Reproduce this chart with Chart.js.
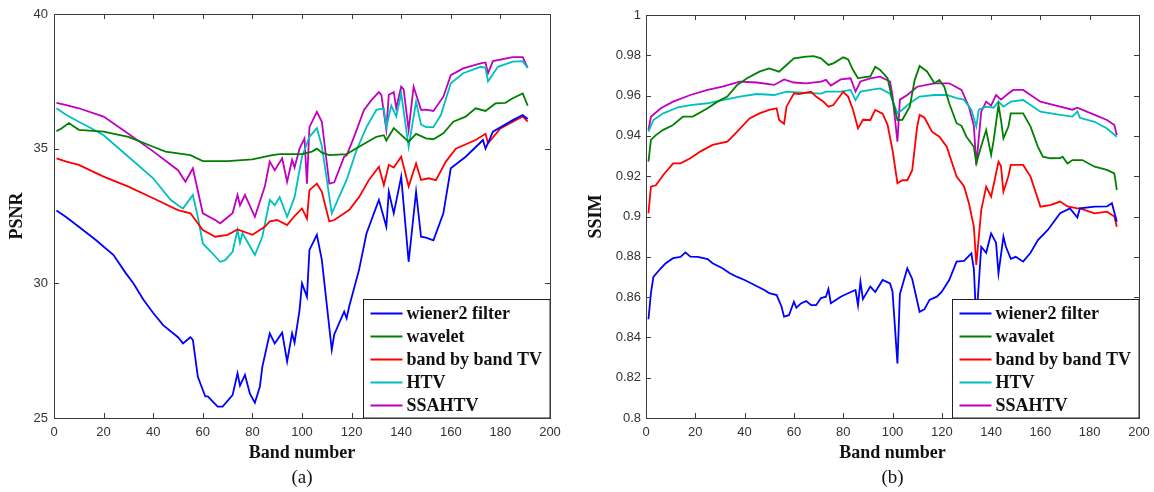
<!DOCTYPE html>
<html>
<head>
<meta charset="utf-8">
<script src="https://cdn.jsdelivr.net/npm/chart.js@4.4.1/dist/chart.umd.min.js"></script>
<style>
  html, body { margin: 0; padding: 0; background: #ffffff; }
  #wrap { position: relative; width: 1154px; height: 492px; }
  canvas { position: absolute; top: 0; }
  #psnr { left: 0; }
  #ssim { left: 577px; }
</style>
</head>
<body>
<div id="wrap">
  <canvas id="psnr" width="577" height="492"></canvas>
  <canvas id="ssim" width="577" height="492"></canvas>
</div>
<script>
// ---- Method names (legend order) ----
const methods = ['wiener2 filter', 'wavalet', 'band by band TV', 'HTV', 'SSAHTV'];
const methodsA = ['wiener2 filter', 'wavelet', 'band by band TV', 'HTV', 'SSAHTV'];
const colors = ['#0000ff', '#008000', '#ff0000', '#00bfbf', '#bf00bf'];

// ---- Axis ticks ----
const bandTicks = [0, 20, 40, 60, 80, 100, 120, 140, 160, 180, 200];
const psnrTicks = [25, 30, 35, 40];
const ssimTicks = [0.8, 0.82, 0.84, 0.86, 0.88, 0.9, 0.92, 0.94, 0.96, 0.98, 1];

// ---- PSNR per band ----
const psnrWienerBand = [1,5,10,17,24,29,32,36,40,44,50,52,55,56,58,61,62,66,68,72,74,75,77,79,81,83,84,87,89,92,94,96,97,99,100,102,103,106,108,112,113,117,118,119,123,126,131,134,135,137,140,143,146,148,150,153,157,160,166,173,174,177,185,189,191];
const psnrWiener     = [32.7,32.45,32.1,31.6,31.05,30.37,30.0,29.4,28.9,28.45,28.0,27.77,28.0,27.9,26.53,25.8,25.8,25.42,25.42,25.85,26.66,26.2,26.6,25.9,25.57,26.16,26.9,28.14,27.77,28.17,27.1,28.14,27.8,29.0,30.0,29.5,31.24,31.8,30.87,27.53,28.1,28.95,28.7,29.13,30.5,31.85,33.1,32.1,33.4,32.6,33.96,30.8,33.4,31.73,31.7,31.6,32.6,34.27,34.7,35.32,35.0,35.63,36.06,36.25,36.1];

const psnrWaveletBand = [1,3,6,10,20,30,40,45,55,60,70,80,88,91,100,104,106,108,111,118,123,130,133,134,137,143,146,150,153,157,161,166,170,174,178,182,185,189,191];
const psnrWavelet     = [35.65,35.75,35.95,35.7,35.63,35.44,35.07,34.89,34.76,34.54,34.54,34.6,34.76,34.8,34.8,34.89,35.0,34.85,34.76,34.8,35.07,35.44,35.5,35.3,35.76,35.26,35.55,35.38,35.35,35.57,36.0,36.19,36.5,36.4,36.68,36.7,36.87,37.05,36.6];

const psnrBbtvBand = [1,5,10,20,30,40,50,55,60,65,70,74,80,85,87,90,94,97,100,102,103,106,108,111,113,119,123,127,131,133,135,137,140,143,146,148,151,154,158,162,170,174,175,180,185,189,191];
const psnrBbtv     = [34.64,34.52,34.4,33.96,33.59,33.16,32.72,32.6,31.98,31.73,31.8,32.0,31.8,32.1,32.3,32.35,32.16,32.5,32.78,32.4,33.46,33.7,33.4,32.3,32.35,32.72,33.2,33.84,34.33,33.65,34.4,34.3,34.7,33.6,34.45,33.84,33.9,33.83,34.52,35.0,35.32,35.55,35.2,35.75,36.0,36.2,36.0];

const psnrHtvBand = [1,5,10,15,20,30,40,47,50,52,56,58,60,63,67,69,72,74,75,76,81,84,87,89,91,94,97,100,103,106,108,112,113,118,122,126,130,133,134,136,138,140,143,146,148,150,153,156,160,165,172,174,175,179,185,189,191];
const psnrHtv     = [36.5,36.25,36.0,35.76,35.5,34.7,33.9,33.1,32.9,32.78,33.28,32.47,31.48,31.2,30.8,30.86,31.17,31.98,31.5,31.86,31.05,31.73,33.1,32.9,33.2,32.47,33.2,34.7,35.44,35.76,35.1,32.6,32.8,33.84,34.95,35.8,36.44,36.5,35.8,36.6,36.2,37.05,35.07,36.74,35.9,35.8,35.8,36.25,37.43,37.8,38.04,38.0,37.5,38.04,38.23,38.25,38.0];

const psnrSsahtvBand = [1,5,10,20,30,40,50,53,56,60,65,67,72,74,75,77,81,85,87,89,92,94,96,97,99,101,102,103,106,108,111,113,117,118,121,125,128,131,132,134,135,137,138,140,141,143,145,148,150,153,157,160,165,172,174,175,177,185,189,191];
const psnrSsahtv     = [36.7,36.62,36.5,36.19,35.55,34.9,34.2,33.77,34.27,32.6,32.35,32.23,32.6,33.28,32.9,33.28,32.47,33.59,34.52,34.2,34.64,33.77,34.58,34.3,35.0,35.38,33.7,35.8,36.37,36.0,33.7,33.75,34.7,34.75,35.44,36.44,36.8,37.1,37.0,35.7,37.0,37.1,36.5,37.3,37.2,35.7,37.3,36.44,36.45,36.4,36.93,37.73,37.98,38.17,38.2,37.8,38.25,38.4,38.4,38.0];

// ---- SSIM per band ----
const ssimWienerBand = [1,2,3,6,8,11,14,16,18,21,25,27,31,34,37,40,44,48,50,53,55,56,58,60,61,63,65,67,69,71,73,74,75,79,82,85,86,87,88,91,93,96,99,100,102,103,105,106,108,111,113,115,118,120,123,126,129,132,133,134,136,138,140,142,143,145,146,148,150,153,156,159,163,168,172,175,176,182,187,189,191];
const ssimWiener     = [0.849,0.862,0.870,0.8743,0.8768,0.8793,0.880,0.8822,0.8801,0.880,0.8789,0.8768,0.8743,0.8718,0.870,0.8685,0.866,0.8635,0.862,0.861,0.8552,0.8503,0.851,0.8577,0.8547,0.857,0.858,0.856,0.856,0.8595,0.8602,0.864,0.857,0.8602,0.8619,0.8635,0.856,0.8676,0.859,0.8652,0.8625,0.8685,0.8668,0.8628,0.8271,0.8615,0.870,0.8743,0.869,0.8527,0.854,0.8586,0.8602,0.8627,0.8685,0.8776,0.878,0.8817,0.874,0.848,0.885,0.882,0.8916,0.887,0.8718,0.890,0.885,0.879,0.880,0.8776,0.882,0.8883,0.8933,0.9016,0.904,0.8995,0.904,0.9049,0.905,0.9066,0.8974];

const ssimWaveletBand = [1,2,4,7,11,15,19,25,29,33,37,41,46,50,54,57,60,65,68,71,74,76,80,82,84,86,88,91,93,95,98,100,102,104,107,109,111,114,117,119,121,123,126,128,130,133,134,136,138,140,141,143,144,145,147,148,153,156,159,161,164,168,169,171,173,177,182,187,190,191];
const ssimWavelet     = [0.9272,0.938,0.9404,0.943,0.9454,0.9496,0.9496,0.9537,0.957,0.9595,0.9653,0.9686,0.9719,0.9735,0.9719,0.9752,0.9785,0.9793,0.9796,0.9785,0.9752,0.976,0.979,0.978,0.9727,0.9686,0.969,0.9695,0.9743,0.9727,0.9686,0.9578,0.9479,0.948,0.9545,0.9677,0.9747,0.972,0.9661,0.9677,0.9644,0.9562,0.9463,0.945,0.9396,0.9346,0.9264,0.935,0.9429,0.9305,0.9375,0.9553,0.9479,0.9388,0.9445,0.9512,0.9512,0.9446,0.9346,0.9297,0.9289,0.929,0.9297,0.9263,0.928,0.928,0.9247,0.9231,0.9214,0.9132];

const ssimBbtvBand = [1,2,4,7,11,14,18,22,27,33,37,42,46,50,53,54,56,57,60,62,67,69,72,74,76,80,82,84,86,88,91,93,96,98,100,102,104,106,108,110,111,113,116,119,122,126,129,131,133,134,136,138,140,143,144,145,147,148,153,156,160,164,168,171,175,176,182,187,190,191];
const ssimBbtv     = [0.9016,0.9148,0.9155,0.9206,0.9264,0.9264,0.9289,0.9322,0.9355,0.9371,0.9421,0.9487,0.9512,0.9529,0.9537,0.9479,0.946,0.9545,0.9611,0.9608,0.9619,0.9595,0.957,0.9545,0.9553,0.9619,0.9595,0.9529,0.9437,0.948,0.9479,0.9529,0.951,0.9455,0.933,0.9165,0.918,0.918,0.923,0.9446,0.9504,0.949,0.9421,0.9396,0.9346,0.9198,0.915,0.9066,0.895,0.876,0.9032,0.9148,0.9098,0.9272,0.925,0.9123,0.920,0.9256,0.9256,0.9198,0.9049,0.9057,0.9074,0.905,0.904,0.904,0.9016,0.9024,0.900,0.8949];

const ssimHtvBand = [1,3,7,13,18,25,31,38,45,52,57,65,71,73,79,83,85,87,91,95,99,102,104,107,111,117,122,126,129,132,134,135,138,141,143,145,148,153,160,168,173,175,176,182,187,191];
const ssimHtv     = [0.9421,0.9479,0.9512,0.9542,0.9553,0.9562,0.9578,0.9595,0.9608,0.9603,0.962,0.9614,0.961,0.962,0.962,0.9628,0.9578,0.962,0.9628,0.9636,0.961,0.9512,0.953,0.9562,0.9595,0.9603,0.9603,0.9587,0.958,0.9529,0.9446,0.953,0.9545,0.954,0.957,0.9545,0.957,0.9578,0.952,0.9504,0.9496,0.9522,0.949,0.947,0.9437,0.9396];

const ssimSsahtvBand = [1,2,6,11,18,25,31,38,45,52,56,60,65,71,73,75,79,83,85,87,91,95,99,100,102,103,106,110,117,123,128,131,133,134,136,138,140,142,144,147,149,153,160,168,173,175,182,187,190,191];
const ssimSsahtv     = [0.943,0.9495,0.9537,0.957,0.9603,0.9628,0.9644,0.9669,0.9665,0.9653,0.968,0.9665,0.9661,0.9669,0.9678,0.965,0.968,0.9686,0.962,0.967,0.9686,0.9694,0.967,0.960,0.9371,0.958,0.9603,0.9644,0.9661,0.9661,0.9628,0.9545,0.945,0.9256,0.952,0.957,0.955,0.9603,0.958,0.961,0.9628,0.9628,0.957,0.9545,0.953,0.954,0.9504,0.9479,0.9454,0.9404];

// ---- helpers ----
function pairs(bands, vals) {
  return bands.map((b, i) => ({ x: b, y: vals[i] }));
}

function makeDatasets(series, names) {
  return series.map((s, i) => ({
    label: names[i],
    data: pairs(s[0], s[1]),
    borderColor: colors[i],
    backgroundColor: colors[i],
    borderWidth: 1.8,
    pointRadius: 0,
    tension: 0,
    fill: false
  }));
}

const frameColor = '#3c3c3c';

// Box around the axes, inward tick marks on all four sides, legend and caption
const framePlugin = {
  id: 'frame',
  afterDatasetsDraw(chart, args, opts) {
    const { ctx, chartArea: ca, scales } = chart;
    const xs = scales.x, ys = scales.y;
    ctx.save();
    ctx.strokeStyle = frameColor;
    ctx.lineWidth = 1;
    const tl = 5;
    ctx.beginPath();
    xs.ticks.forEach(t => {
      const px = Math.round(xs.getPixelForValue(t.value)) + 0.5;
      ctx.moveTo(px, ca.bottom); ctx.lineTo(px, ca.bottom - tl);
      ctx.moveTo(px, ca.top); ctx.lineTo(px, ca.top + tl);
    });
    ys.ticks.forEach(t => {
      const py = Math.round(ys.getPixelForValue(t.value)) + 0.5;
      ctx.moveTo(ca.left, py); ctx.lineTo(ca.left + tl, py);
      ctx.moveTo(ca.right, py); ctx.lineTo(ca.right - tl, py);
    });
    ctx.stroke();

    // legend box in the lower-right corner
    const names = opts.names;
    ctx.font = 'bold 18px "Liberation Serif", "Times New Roman", serif';
    let tw = 0;
    names.forEach(n => { tw = Math.max(tw, ctx.measureText(n).width); });
    const padL = 7, lineLen = 32, gap = 4, padR = 8, rowH = 23;
    const w = padL + lineLen + gap + tw + padR;
    const h = 119;
    const lx = Math.round(ca.right - w) + 0.5;
    const ly = Math.round(ca.bottom - h) + 0.5;
    ctx.fillStyle = '#ffffff';
    ctx.fillRect(lx, ly, ca.right - lx, ca.bottom - ly);
    ctx.strokeStyle = '#222222';
    ctx.strokeRect(lx, ly, ca.right - lx, ca.bottom - ly);
    ctx.textBaseline = 'middle';
    ctx.textAlign = 'left';
    names.forEach((n, i) => {
      const cy = ly + 14 + i * rowH;
      ctx.strokeStyle = colors[i];
      ctx.lineWidth = 1.8;
      ctx.beginPath();
      ctx.moveTo(lx + padL, cy); ctx.lineTo(lx + padL + lineLen, cy);
      ctx.stroke();
      ctx.fillStyle = '#111111';
      ctx.fillText(n, lx + padL + lineLen + gap, cy + 1);
    });

    // axes box
    ctx.strokeStyle = frameColor;
    ctx.lineWidth = 1;
    ctx.strokeRect(Math.round(ca.left) + 0.5, Math.round(ca.top) + 0.5,
                   Math.round(ca.right - ca.left), Math.round(ca.bottom - ca.top));

    // caption under the axis title
    ctx.fillStyle = '#111111';
    ctx.font = '19px "Liberation Serif", "Times New Roman", serif';
    ctx.textAlign = 'center';
    ctx.fillText(opts.caption, (ca.left + ca.right) / 2, 478);
    ctx.restore();
  }
};

function makeChart(id, series, names, cfg) {
  return new Chart(document.getElementById(id), {
    type: 'line',
    data: { datasets: makeDatasets(series, names) },
    plugins: [framePlugin],
    options: {
      responsive: false,
      animation: false,
      layout: { padding: { top: cfg.padTop, right: cfg.padRight, bottom: 0, left: 0 } },
      plugins: {
        legend: { display: false },
        tooltip: { enabled: false },
        frame: { names: names, caption: cfg.caption }
      },
      scales: {
        x: {
          type: 'linear',
          min: 0, max: 200,
          afterBuildTicks(scale) { scale.ticks = bandTicks.map(v => ({ value: v })); },
          afterFit(scale) { scale.height = 74; scale.paddingLeft = 0; scale.paddingRight = 0; },
          grid: { display: false, drawTicks: false },
          border: { display: false },
          ticks: {
            padding: 7,
            color: '#333333',
            font: { family: '"Liberation Sans", Arial, sans-serif', size: 13 },
            maxRotation: 0,
            autoSkip: false
          },
          title: {
            display: true,
            text: 'Band number',
            color: '#111111',
            font: { family: '"Liberation Serif", "Times New Roman", serif', size: 18, weight: 'bold' },
            padding: { top: 0, bottom: 28 }
          }
        },
        y: {
          type: 'linear',
          min: cfg.yMin, max: cfg.yMax,
          afterBuildTicks(scale) { scale.ticks = cfg.yTicks.map(v => ({ value: v })); },
          afterFit(scale) { scale.width = cfg.yWidth; scale.paddingTop = 0; scale.paddingBottom = 0; },
          grid: { display: false, drawTicks: false },
          border: { display: false },
          ticks: {
            padding: cfg.yPad,
            color: '#333333',
            font: { family: '"Liberation Sans", Arial, sans-serif', size: 13 },
            autoSkip: false,
            callback: v => String(Number(v.toFixed(2)))
          },
          title: {
            display: true,
            text: cfg.yTitle,
            color: '#111111',
            font: { family: '"Liberation Serif", "Times New Roman", serif', size: 18, weight: 'bold' },
            padding: { top: cfg.yTitlePad, bottom: 0 }
          }
        }
      }
    }
  });
}

makeChart('psnr', [
  [psnrWienerBand, psnrWiener],
  [psnrWaveletBand, psnrWavelet],
  [psnrBbtvBand, psnrBbtv],
  [psnrHtvBand, psnrHtv],
  [psnrSsahtvBand, psnrSsahtv]
], methodsA, {
  padTop: 14, padRight: 27, yWidth: 54, yPad: 6, yTitlePad: 7,
  yMin: 25, yMax: 40, yTicks: psnrTicks, yTitle: 'PSNR', caption: '(a)'
});

makeChart('ssim', [
  [ssimWienerBand, ssimWiener],
  [ssimWaveletBand, ssimWavelet],
  [ssimBbtvBand, ssimBbtv],
  [ssimHtvBand, ssimHtv],
  [ssimSsahtvBand, ssimSsahtv]
], methods, {
  padTop: 15, padRight: 15, yWidth: 69, yPad: 5, yTitlePad: 9,
  yMin: 0.8, yMax: 1, yTicks: ssimTicks, yTitle: 'SSIM', caption: '(b)'
});
</script>
</body>
</html>
